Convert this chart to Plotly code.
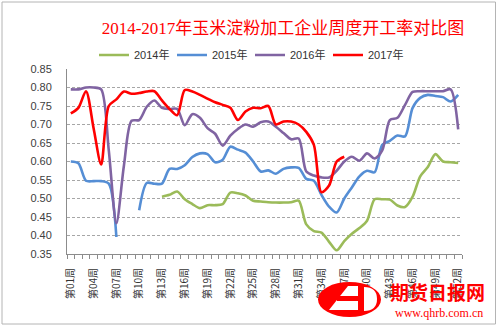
import plotly.graph_objects as go

# Week numbers along the x axis
weeks = list(range(1, 53))
tick_weeks = [1, 4, 7, 10, 13, 16, 19, 22, 25, 28, 31, 34, 37, 40, 43, 46, 49, 52]
tick_labels = ["第01周", "第04周", "第07周", "第10周", "第13周", "第16周", "第19周", "第22周", "第25周",
               "第28周", "第31周", "第34周", "第37周", "第40周", "第43周", "第46周", "第49周", "第52周"]

series_names = ["2014年", "2015年", "2016年", "2017年"]

rate_2014 = [None, None, None, None, None, None, None, None, None, None, None, None,
             0.505, 0.510, 0.519, 0.498, 0.485, 0.474, 0.482, 0.482, 0.485, 0.516, 0.514, 0.508,
             0.494, 0.492, 0.490, 0.489, 0.489, 0.490, 0.494, 0.430, 0.412, 0.408, 0.383, 0.360,
             0.385, 0.405, 0.420, 0.440, 0.498, 0.498, 0.497, 0.481, 0.477, 0.505, 0.560, 0.585,
             0.620, 0.600, 0.598, 0.596]

rate_2015 = [0.600, 0.595, 0.548, 0.547, 0.547, 0.540, 0.396, None, None, 0.468, 0.542, 0.540,
             0.540, 0.580, 0.580, 0.590, 0.612, 0.622, 0.620, 0.598, 0.605, 0.640, 0.632, 0.624,
             0.600, 0.573, 0.576, 0.567, 0.580, 0.584, 0.583, 0.553, 0.548, 0.510, 0.478, 0.462,
             0.500, 0.530, 0.560, 0.575, 0.571, 0.645, 0.656, 0.670, 0.668, 0.745, 0.772, 0.780,
             0.777, 0.774, 0.762, 0.780]

rate_2016 = [0.795, 0.795, 0.800, 0.800, 0.795, 0.630, 0.433, 0.590, 0.710, 0.712, 0.748, 0.765,
             0.745, 0.742, 0.742, 0.698, 0.728, 0.718, 0.690, 0.675, 0.643, 0.670, 0.688, 0.700,
             0.694, 0.706, 0.708, 0.694, 0.677, 0.660, 0.662, 0.573, 0.562, 0.557, 0.557, 0.575,
             0.600, 0.613, 0.602, 0.622, 0.608, 0.630, 0.712, 0.718, 0.753, 0.788, 0.790, 0.790,
             0.790, 0.790, 0.795, 0.687]

rate_2017 = [0.730, 0.745, 0.790, 0.690, 0.592, 0.750, 0.768, 0.789, 0.783, 0.785, 0.789, 0.790,
             0.765, 0.742, 0.725, 0.793, 0.789, 0.780, 0.770, 0.760, 0.753, 0.745, 0.712, 0.735,
             0.745, 0.744, 0.750, 0.700, 0.708, 0.708, 0.700, 0.680, 0.645, 0.517, 0.535, 0.600,
             0.613] + [None] * 15

colors = ["#9BBB59", "#558ED5", "#8064A2", "#FF0000"]
all_series = [rate_2014, rate_2015, rate_2016, rate_2017]

fig = go.Figure()
for name, vals, col in zip(series_names, all_series, colors):
    fig.add_trace(go.Scatter(
        x=weeks, y=vals, name=name, mode="lines",
        line=dict(color=col, width=2.6, shape="spline", smoothing=0.8),
        connectgaps=False,
    ))

# plot-area pixel box, used to place decorations in paper coordinates
PL, PR, PT, PB = 67, 462, 69, 254


def px(x):
    return (x - PL) / (PR - PL)


def py(y):
    return (PB - y) / (PB - PT)


shapes = [
    # outer chart frame
    dict(type="rect", xref="paper", yref="paper", x0=px(2), x1=px(495.5), y0=py(324), y1=py(2),
         line=dict(color="#B4B4B4", width=1), fillcolor="rgba(0,0,0,0)", layer="below"),
    # logo: red ellipse with white HD glyph
    dict(type="circle", xref="paper", yref="paper", x0=px(318), x1=px(381), y0=py(317), y1=py(282),
         fillcolor="#FF0000", line=dict(width=0), layer="above"),
    dict(type="path", xref="paper", yref="paper",
         path=f"M {px(329)},{py(310)} L {px(348)},{py(286)} L {px(358)},{py(286)} L {px(358)},{py(310)} Z",
         fillcolor="white", line=dict(width=0), layer="above"),
    dict(type="rect", xref="paper", yref="paper", x0=px(337), x1=px(358), y0=py(301), y1=py(296),
         fillcolor="#FF0000", line=dict(width=0), layer="above"),
    dict(type="path", xref="paper", yref="paper",
         path=(f"M {px(364)},{py(287)} Q {px(377)},{py(287)} {px(377)},{py(299)} "
               f"Q {px(377)},{py(311)} {px(364)},{py(311)} Z"),
         fillcolor="white", line=dict(width=0), layer="above"),
]

annotations = [
    dict(text="<b>期货日报网</b>", xref="paper", yref="paper", x=px(437), y=py(291),
         xanchor="center", yanchor="middle", showarrow=False,
         font=dict(family="Noto Sans CJK SC", size=19, color="#FF0000")),
    dict(text="www.qhrb.com.cn", xref="paper", yref="paper", x=px(439), y=py(313),
         xanchor="center", yanchor="middle", showarrow=False,
         font=dict(family="Liberation Serif", size=12, color="#FF0000")),
]

fig.update_layout(
    width=500, height=328,
    margin=dict(l=PL, r=500 - PR, t=PT, b=328 - PB, pad=0),
    paper_bgcolor="white", plot_bgcolor="white",
    title=dict(text="2014-2017年玉米淀粉加工企业周度开工率对比图",
               x=283 / 500, xanchor="center", xref="container",
               y=1 - 28 / 328, yanchor="middle", yref="container",
               font=dict(family="Liberation Serif, Noto Sans CJK SC", size=17, color="#FF0000")),
    legend=dict(orientation="h", x=px(250), xanchor="center", y=py(55), yanchor="middle",
                font=dict(family="Liberation Sans, Noto Sans CJK SC", size=11, color="#333333"),
                bgcolor="rgba(0,0,0,0)", itemwidth=30, tracegroupgap=0,
                entrywidth=33, entrywidthmode="pixels"),
    shapes=shapes,
    annotations=annotations,
    showlegend=True,
)

fig.update_xaxes(
    range=[0.5, 52.5], tickmode="array", tickvals=tick_weeks, ticktext=tick_labels,
    tickangle=-90, ticks="", ticklabelstandoff=9,
    tickfont=dict(family="Noto Sans CJK SC", size=10, color="#333333"),
    showgrid=False, zeroline=False,
    showline=True, linecolor="#8C8C8C", linewidth=1,
    minor=dict(ticks="outside", ticklen=4, tickcolor="#8C8C8C", tickwidth=1,
               tickmode="linear", tick0=0.5, dtick=1, showgrid=False),
)

fig.update_yaxes(
    range=[0.35, 0.85], tickmode="linear", tick0=0.35, dtick=0.05, tickformat=".2f",
    ticks="", ticklabelstandoff=12,
    tickfont=dict(family="Liberation Sans", size=11, color="#404040"),
    showgrid=True, gridcolor="#A6A6A6", gridwidth=1, griddash="3px,2px",
    zeroline=False, showline=True, linecolor="#8C8C8C", linewidth=1,
)

fig.write_html("out.html")
